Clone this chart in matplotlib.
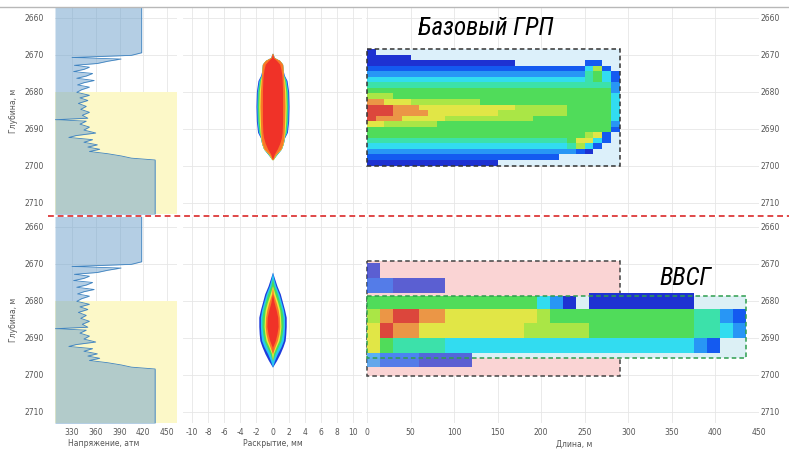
import numpy as np
import matplotlib
matplotlib.use("Agg")
import matplotlib.pyplot as plt
from matplotlib.colors import ListedColormap, BoundaryNorm
from matplotlib.lines import Line2D
from matplotlib.patches import Rectangle

plt.rcParams["axes.unicode_minus"] = False

W, H = 789, 453

DEPTH_TICKS = [2660, 2670, 2680, 2690, 2700, 2710]
STRESS_TICKS = [330, 360, 390, 420, 450]
WIDTH_TICKS = [-10, -8, -6, -4, -2, 0, 2, 4, 6, 8, 10]
LENGTH_TICKS = [0, 50, 100, 150, 200, 250, 300, 350, 400, 450]

# stress log (same in both rows)
STRESS_DEPTH = [2657.0, 2669.5, 2670.2, 2670.8, 2671.2, 2671.8, 2672.4, 2672.9, 2673.4,
                2674.0, 2674.6, 2675.1, 2675.8, 2676.4, 2677.0, 2677.6, 2678.2, 2678.8,
                2679.5, 2680.2, 2681.0, 2681.7, 2682.4, 2683.2, 2684.0, 2684.8, 2685.6,
                2686.4, 2687.2, 2687.6, 2688.0, 2688.8, 2689.6, 2690.4, 2691.2, 2691.9,
                2692.4, 2693.0, 2693.7, 2694.4, 2695.0, 2695.6, 2696.2, 2696.8, 2697.4,
                2698.0, 2698.5, 2713.5]
STRESS_ATM = [418, 418, 405, 330, 392, 375, 362, 333, 352,
              345, 332, 356, 348, 336, 358, 345, 337, 352,
              342, 336, 352, 340, 350, 338, 348, 341, 352,
              343, 350, 309, 348, 340, 352, 345, 360, 335,
              326, 356, 345, 362, 350, 365, 352, 375, 392,
              405, 435, 435]
PAY_TOP = 2680

# fracture width profiles, half-width in mm, outer layer first
WIDTH_COLORS = ["#1e3cdc", "#28c8f0", "#46dc5a", "#f0e63c", "#fa7828", "#f03228"]
TOP_W_DEPTH = [2669.6, 2670.8, 2671.6, 2672.6, 2674.0, 2675.5, 2677.0, 2680.0,
               2684.0, 2688.0, 2691.0, 2692.5, 2694.0, 2695.5, 2697.0, 2698.4]
TOP_W = [
    [0, 0.25, 0.9, 1.25, 1.3, 1.45, 1.8, 2.0, 2.05, 2.0, 1.85, 1.5, 1.35, 1.1, 0.55, 0],
    [0, 0.2, 0.9, 1.25, 1.3, 1.4, 1.7, 1.9, 1.95, 1.9, 1.75, 1.45, 1.35, 1.1, 0.55, 0],
    [0, 0.2, 0.9, 1.25, 1.3, 1.35, 1.6, 1.8, 1.85, 1.8, 1.65, 1.45, 1.35, 1.1, 0.5, 0.1],
    [0, 0.2, 0.9, 1.25, 1.3, 1.35, 1.5, 1.65, 1.7, 1.65, 1.55, 1.45, 1.35, 1.1, 0.45, 0.1],
    [0, 0.2, 0.9, 1.25, 1.3, 1.35, 1.4, 1.5, 1.55, 1.5, 1.45, 1.4, 1.3, 1.05, 0.4, 0.05],
    [0, 0.1, 0.5, 0.9, 1.05, 1.15, 1.2, 1.25, 1.25, 1.25, 1.2, 1.1, 0.9, 0.6, 0.2, 0],
]
BOT_W_DEPTH = [2672.3, 2674.0, 2676.0, 2678.2, 2680.5, 2682.5, 2684.5, 2687.0,
               2689.0, 2690.8, 2692.5, 2694.4, 2696.2, 2698.0]
BOT_W = [
    [0, 0.25, 0.55, 0.97, 1.25, 1.5, 1.7, 1.7, 1.65, 1.57, 1.3, 0.93, 0.5, 0],
    [0, 0.15, 0.4, 0.8, 1.1, 1.35, 1.5, 1.5, 1.45, 1.35, 1.05, 0.6, 0.25, 0],
    [0, 0, 0.2, 0.6, 0.9, 1.15, 1.3, 1.3, 1.2, 1.05, 0.7, 0.3, 0, 0],
    [0, 0, 0, 0.3, 0.65, 0.9, 1.0, 1.05, 0.95, 0.8, 0.45, 0.1, 0, 0],
    [0, 0, 0, 0.1, 0.45, 0.7, 0.85, 0.9, 0.8, 0.6, 0.3, 0, 0, 0],
    [0, 0, 0, 0, 0.2, 0.45, 0.65, 0.7, 0.55, 0.35, 0.05, 0, 0, 0],
]

# fracture maps: one char per cell, 0..9 = level, '.' = empty (runs written as repeats)
LEVEL_COLORS = ["#1e32d2", "#145af0", "#2896f5", "#32dcf0", "#3ce1aa",
                "#50dc5a", "#aae646", "#e1e646", "#eb9646", "#dc463c"]
TOP_CELL = 10
TOP_EDGES = [2668.5, 2670.0, 2671.5, 2673.0, 2674.5, 2676.0, 2677.5, 2679.0, 2680.5,
             2682.0, 2683.5, 2685.0, 2686.5, 2688.0, 2689.5, 2691.0, 2692.5, 2694.0,
             2695.5, 2697.0, 2698.5, 2700.0]
TOP_MAP = [
    "0" + "." * 28,
    "0" * 5 + "." * 24,
    "0" * 17 + "." * 8 + "11..",
    "1" * 25 + "361.",
    "2" * 25 + "4531",
    "3" * 25 + "4531",
    "4" * 25 + "4442",
    "5" * 25 + "5552",
    "6" * 3 + "5" * 22 + "5553",
    "8" * 2 + "7" * 3 + "6" * 8 + "5" * 12 + "5553",
    "9" * 3 + "8" * 3 + "7" * 11 + "6" * 6 + "5" * 2 + "5553",
    "9" * 3 + "8" * 4 + "7" * 8 + "6" * 8 + "5" * 2 + "5553",
    "9" * 1 + "8" * 3 + "7" * 5 + "6" * 10 + "5" * 6 + "5553",
    "7" * 2 + "6" * 6 + "5" * 17 + "5552",
    "5" * 25 + "5551",
    "5" * 24 + "5671.",
    "4" * 23 + "57731.",
    "3" * 22 + "34631..",
    "2" * 22 + "2210...",
    "1" * 22 + "." * 7,
    "0" * 15 + "." * 14,
]
BOT_CELL = 15
BOT_EDGES = [2669.8, 2674.0, 2677.9, 2678.8, 2682.2, 2686.0, 2690.0, 2694.2, 2698.0]
BOT_MAP = [
    "0" + "." * 28,
    "110000" + "." * 23,
    "." * 17 + "0" * 8 + "....",
    "5" * 13 + "320." + "0" * 8 + "....",
    "6899887777777" + "6" + "5" * 11 + "4421",
    "798877777777" + "6" * 5 + "5" * 8 + "4432",
    "754444" + "3" * 19 + "21..",
    "21110000" + "." * 21,
]
BOT_ALPHA = [0.72, 0.72, 1, 1, 1, 1, 1, 0.72]

YLIM = (2713.1, 2657.4)
TICK_KW = dict(labelsize=5.5, labelcolor="#555555", length=0)
LABEL_KW = dict(fontsize=5.5, color="#555555")
TITLE_FONT = ["Liberation Sans Narrow", "Roboto Condensed", "DejaVu Sans"]


def parse_map(rows, ncol=29):
    out = np.full((len(rows), ncol), np.nan)
    for i, r in enumerate(rows):
        assert len(r) == ncol, (i, len(r))
        for j, c in enumerate(r):
            if c != ".":
                out[i, j] = float(c)
    return out


def add_ax(fig, left, top, right, bottom):
    ax = fig.add_axes([left / W, 1 - bottom / H, (right - left) / W, (bottom - top) / H])
    for s in ax.spines.values():
        s.set_visible(False)
    ax.set_ylim(*YLIM)
    ax.set_yticks(DEPTH_TICKS)
    ax.grid(True, color="#e6e6e6", lw=0.6)
    ax.set_axisbelow(True)
    ax.tick_params(**TICK_KW)
    return ax


def stress_panel(ax, show_x):
    ax.set_xlim(308.5, 462.6)
    ax.set_xticks(STRESS_TICKS)
    ax.fill_between([308.5, 462.6], PAY_TOP, YLIM[0], color="#fcf8c8", zorder=1, lw=0)
    ax.fill_betweenx(STRESS_DEPTH, 308.5, STRESS_ATM, color="#6fa2cc", alpha=0.52, zorder=2, lw=0)
    ax.plot(STRESS_ATM, STRESS_DEPTH, color="#3f83c0", lw=0.6, zorder=3)
    ax.tick_params(axis="y", pad=8)
    ax.set_ylabel("Глубина, м", **LABEL_KW)
    ax.yaxis.set_label_coords(-0.30, 0.5)
    if show_x:
        ax.set_xlabel("Напряжение, атм", **LABEL_KW)
        ax.xaxis.set_label_coords(0.4, -0.08)
    else:
        ax.tick_params(axis="x", labelbottom=False)


def width_panel(ax, depth, layers, show_x):
    ax.set_xlim(-11.1, 11.1)
    ax.set_xticks(WIDTH_TICKS)
    ax.tick_params(axis="y", labelleft=False)
    for w, c in zip(layers, WIDTH_COLORS):
        w = np.array(w)
        ax.fill_betweenx(depth, -w, w, color=c, lw=0, zorder=2)
    if show_x:
        ax.set_xlabel("Раскрытие, мм", **LABEL_KW)
        ax.xaxis.set_label_coords(0.5, -0.08)
    else:
        ax.tick_params(axis="x", labelbottom=False)


def length_panel(ax, show_x):
    ax.set_xlim(-1.2, 450.1)
    ax.set_xticks(LENGTH_TICKS)
    ax.yaxis.tick_right()
    ax.tick_params(axis="y", pad=1)
    if show_x:
        ax.set_xlabel("Длина, м", **LABEL_KW)
        ax.xaxis.set_label_coords(0.53, -0.08)
    else:
        ax.tick_params(axis="x", labelbottom=False)


cmap = ListedColormap(LEVEL_COLORS)
norm = BoundaryNorm(np.arange(-0.5, 10.5, 1.0), cmap.N)

fig = plt.figure(figsize=(W / 100, H / 100), dpi=100)

rows = [(8, 214, False), (217, 423, True)]
for r, (top, bottom, show_x) in enumerate(rows):
    ax1 = add_ax(fig, 55, top, 177, bottom)
    stress_panel(ax1, show_x)

    ax2 = add_ax(fig, 183, top, 362, bottom)
    if r == 0:
        width_panel(ax2, TOP_W_DEPTH, TOP_W, show_x)
    else:
        width_panel(ax2, BOT_W_DEPTH, BOT_W, show_x)

    ax3 = add_ax(fig, 366, top, 759, bottom)
    length_panel(ax3, show_x)

    if r == 0:
        vals = parse_map(TOP_MAP)
        xe = np.arange(vals.shape[1] + 1) * TOP_CELL
        ax3.add_patch(Rectangle((0, 2668.5), 290, 31.7, facecolor="#dcf0fa", lw=0, zorder=1))
        ax3.pcolormesh(xe, TOP_EDGES, np.ma.masked_invalid(vals), cmap=cmap, norm=norm, zorder=2)
        ax3.add_patch(Rectangle((0, 2668.5), 290, 31.7, fill=False, edgecolor="#333333",
                                ls=(0, (3, 2)), lw=1.1, zorder=4))
        ax3.text(0.305, 0.905, "Базовый ГРП", transform=ax3.transAxes, ha="center", va="center",
                 fontsize=18, style="italic", family=TITLE_FONT)
    else:
        vals = parse_map(BOT_MAP)
        xe = np.arange(vals.shape[1] + 1) * BOT_CELL
        ax3.add_patch(Rectangle((0, 2669.3), 290, 31.0, facecolor="#fad4d4",
                                edgecolor="#444444", ls=(0, (3, 2)), lw=1.1, zorder=1))
        ax3.add_patch(Rectangle((0, 2678.7), 435, 16.7, facecolor="#dcf0f5", lw=0, zorder=1.5))
        for i in range(vals.shape[0]):
            ax3.pcolormesh(xe, BOT_EDGES[i:i + 2], np.ma.masked_invalid(vals[i:i + 1]),
                           cmap=cmap, norm=norm, alpha=BOT_ALPHA[i], zorder=2)
        ax3.add_patch(Rectangle((0, 2678.7), 435, 16.7, fill=False, edgecolor="#2e9e4e",
                                ls=(0, (3, 2)), lw=1.1, zorder=4))
        ax3.text(0.813, 0.705, "ВВСГ", transform=ax3.transAxes, ha="center", va="center",
                 fontsize=18, style="italic", family=TITLE_FONT)

# frame line on top and red separator
fig.add_artist(Line2D([0, 1], [1 - 7 / H, 1 - 7 / H], color="#b8b8b8", lw=1))
fig.add_artist(Line2D([48 / W, 1], [1 - 216 / H, 1 - 216 / H], color="#e04848", lw=1.4,
                      ls=(0, (3, 2))))

fig.savefig("out.png", dpi=100)
